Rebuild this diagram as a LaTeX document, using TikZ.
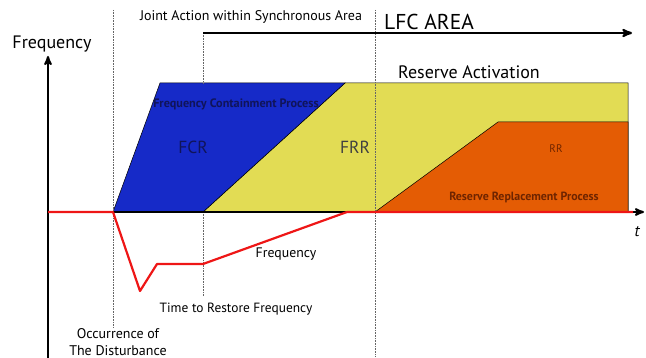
\documentclass[tikz,border=0pt]{standalone}
\usepackage{fontspec}
\setmainfont{PT Sans}
\usetikzlibrary{arrows}

\definecolor{fcrblue}{RGB}{22,42,200}
\definecolor{frryellow}{RGB}{226,220,84}
\definecolor{rrorange}{RGB}{228,92,4}
\definecolor{freqred}{RGB}{238,22,22}
\definecolor{navytext}{RGB}{16,20,90}
\definecolor{browntext}{RGB}{110,36,0}

\tikzset{
    area/.style={draw=black, line width=0.5pt},
    mark line/.style={draw=black!60, densely dotted, line width=0.6pt},
    axis/.style={draw, line width=2pt, -stealth'},
    freq/.style={draw=freqred, line width=2.2pt, line join=round},
}

\begin{document}
\begin{tikzpicture}[x=1pt, y=-1pt]
    \useasboundingbox (0,0) rectangle (646,358);

    % reserve areas
    \path[area, fill=frryellow] (203,212) -- (345,83) -- (628,83) -- (628,212) -- cycle;
    \path[area, fill=fcrblue] (113,212) -- (160,83) -- (345,83) -- (203,212) -- cycle;
    \path[area, fill=rrorange] (375,212) -- (498,122) -- (628,122) -- (628,212) -- cycle;

    % time marks
    \coordinate (dist top) at (113,10);
    \coordinate (dist bot) at (113,328);
    \coordinate (tr top) at (203,33);
    \coordinate (tr mid) at (203,83);
    \coordinate (tr low) at (203,212);
    \coordinate (tr bot) at (203,296);
    \coordinate (lfc top) at (375,10);
    \coordinate (lfc bot) at (375,356);
    \path[mark line] (dist top) -- (dist bot);
    \path[mark line] (tr top) -- (tr mid);
    \path[mark line] (tr low) -- (tr bot);
    \path[mark line] (lfc top) -- (lfc bot);

    % axes
    \coordinate (O) at (48,212);
    \coordinate (ytop) at (48,56);
    \coordinate (ybot) at (48,358);
    \coordinate (xend) at (644,212);
    \path[axis] (ybot) -- (ytop);
    \path[axis] (O) -- (xend);
    \coordinate (lfc end) at (632,33);
    \path[axis, line width=2.2pt] (tr top) -- (lfc end);

    % frequency response
    \coordinate (f0) at (48,212);
    \coordinate (f1) at (113,212);
    \coordinate (f2) at (140,291);
    \coordinate (f3) at (157,264);
    \coordinate (f4) at (203,264);
    \coordinate (f5) at (347,212);
    \coordinate (f6) at (633,212);
    \path[freq] (f0) -- (f1) -- (f2) -- (f3) -- (f4) -- (f5) -- (f6);

    % labels
    \node (freqaxis) at (52,44) {\fontsize{18}{20}\selectfont Frequency};
    \node (taxis) at (637,232) {\fontsize{16}{18}\selectfont\itshape t};
    \node (joint) at (251,17) {\fontsize{14}{16}\selectfont Joint Action within Synchronous Area};
    \node (lfc) at (429,22) {\fontsize{21.5}{24}\selectfont LFC AREA};
    \node (resact) at (469,72) {\fontsize{18}{20}\selectfont Reserve Activation};
    \node[text=navytext] (fcp) at (236,104) {\fontsize{12.2}{14}\selectfont\bfseries Frequency Containment Process};
    \node[text=navytext] (fcr) at (193,147) {\fontsize{17.5}{19}\selectfont FCR};
    \node[text=black!75] (frr) at (355,147) {\fontsize{17.5}{19}\selectfont FRR};
    \node[text=browntext] (rr) at (556,149) {\fontsize{11}{13}\selectfont RR};
    \node[text=browntext] (rrp) at (524,197) {\fontsize{11.9}{14}\selectfont\bfseries Reserve Replacement Process};
    \node (freqlab) at (286,254) {\fontsize{13.8}{16}\selectfont Frequency};
    \node (trf) at (236,309) {\fontsize{13.4}{16}\selectfont Time to Restore Frequency};
    \node[align=center, font=\fontsize{14}{16.5}\selectfont] (occ) at (118,342) {Occurrence of\\The Disturbance};
\end{tikzpicture}
\end{document}
